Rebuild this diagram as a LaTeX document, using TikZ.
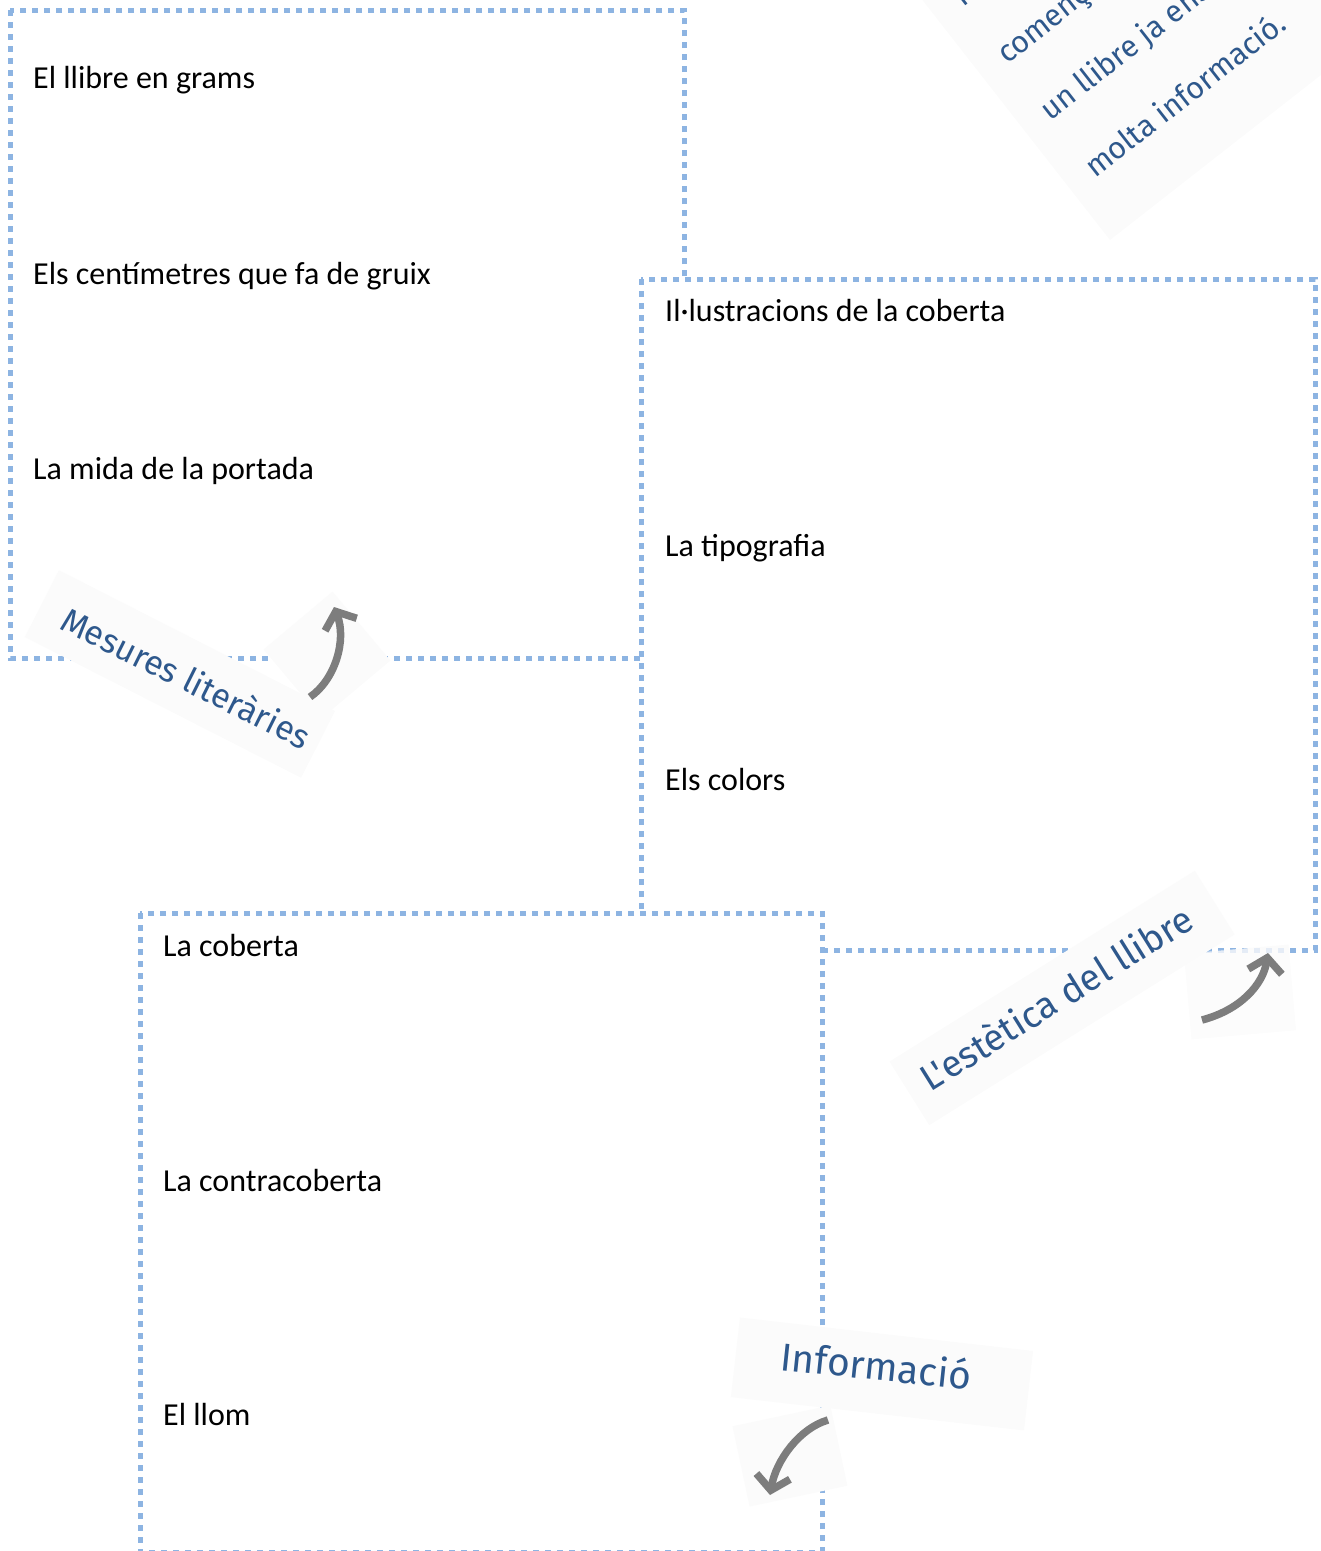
\documentclass[tikz,border=0pt]{standalone}
\usepackage{fontspec}
\setmainfont{Carlito}
\newfontfamily\handfont{Fira Sans}
\usetikzlibrary{arrows.meta}
\definecolor{dotblue}{RGB}{141,180,226}
\definecolor{inkblue}{RGB}{46,88,140}
\definecolor{arrowgray}{RGB}{125,125,125}
\definecolor{patchgray}{RGB}{251,251,251}
\tikzset{
  card/.style={draw=dotblue, fill=white, line width=5pt, dash pattern=on 6pt off 6pt},
  item/.style={anchor=base west, inner sep=0pt, font=\fontsize{32}{38}\selectfont},
  handtext/.style={anchor=base west, inner sep=0pt, text=inkblue, font=\handfont\fontsize{34}{40}\selectfont},
  notetext/.style={handtext, rotate=38, font=\handfont\fontsize{30.5}{36}\selectfont},
  patchbox/.style={fill=patchgray, draw=none, inner sep=0pt},
  curly/.style={draw=arrowgray, line width=7.5pt, -{Straight Barb[length=14pt,width=34pt]}},
}
\begin{document}
\begin{tikzpicture}[x=1pt,y=-1pt]
\useasboundingbox (0,0) rectangle (1321,1551);
\clip (0,0) rectangle (1321,1551);

% top-right note
\fill[patchgray] (1110,240) -- (1583,-130) -- (1275,-524) -- (802,-154) -- cycle;
\node[notetext] (n1) at (963,8) {n};
\node[notetext] (n2) at (1007,65) {començar};
\node[notetext] (n3) at (1050,122) {un llibre ja ens};
\node[notetext] (n4) at (1095,179) {molta informació.};

% box 1
\path[card] (10,10) rectangle (684,658);
\node[item] (t11) at (33,88) {El llibre en grams};
\node[item] (t12) at (33,284) {Els centímetres que fa de gruix};
\node[item] (t13) at (33,479) {La mida de la portada};

% box 2
\path[card] (641,279) rectangle (1315,950);
\node[item] (t21) at (665,321) {Il·lustracions de la coberta};
\node[item] (t22) at (665,556) {La tipografia};
\node[item] (t23) at (665,790) {Els colors};

% box 3
\path[card] (140,913) rectangle (822,1552);
\node[item] (t31) at (163,956) {La coberta};
\node[item] (t32) at (163,1191) {La contracoberta};
\node[item] (t33) at (163,1425) {El llom};

% label patches
\node[patchbox, minimum width=310pt, minimum height=75pt, rotate=-27] (pMes) at (180,674) {};
\node[patchbox, minimum width=90pt, minimum height=90pt, rotate=40] (pA1) at (327,655) {};
\node[patchbox, minimum width=360pt, minimum height=75pt, rotate=32] (pEst) at (1062,998) {};
\node[patchbox, minimum width=105pt, minimum height=86pt, rotate=5, fill opacity=0.8] (pA2) at (1240,992) {};
\node[patchbox, minimum width=295pt, minimum height=80pt, rotate=-6.5] (pInf) at (882,1374) {};
\node[patchbox, minimum width=100pt, minimum height=82pt, rotate=12] (pA3) at (790,1456) {};

% labels
\node[handtext, rotate=-26.5] (lMes) at (58,628) {Mesures literàries};
\node[handtext, rotate=32, font=\handfont\fontsize{37}{43}\selectfont] (lEst) at (930,1093) {L'estètica del llibre};
\node[handtext, rotate=-6, font=\handfont\fontsize{39}{45}\selectfont] (lInf) at (779,1370) {Informació};

% arrows
\coordinate (a1s) at (310,697); \coordinate (a1e) at (334,607);
\coordinate (a2s) at (1202,1020); \coordinate (a2e) at (1268,953);
\coordinate (a3s) at (828,1420); \coordinate (a3e) at (770,1495);
\draw[curly] (a1s) .. controls (335,680) and (347,640) .. (a1e);
\draw[curly] (a2s) .. controls (1240,1010) and (1263,985) .. (a2e);
\draw[curly] (a3s) .. controls (800,1428) and (776,1460) .. (a3e);
\end{tikzpicture}
\end{document}
